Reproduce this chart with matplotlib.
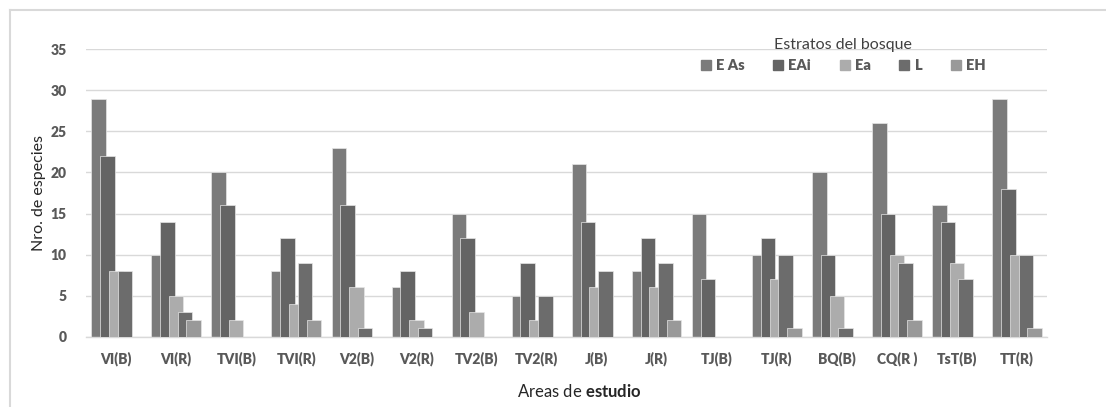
import numpy as np
import matplotlib
matplotlib.use("Agg")
import matplotlib.pyplot as plt
from matplotlib.lines import Line2D

plt.rcParams['font.family'] = ['Lato', 'DejaVu Sans']
plt.rcParams['mathtext.fontset'] = 'custom'
plt.rcParams['mathtext.rm'] = 'Lato'
plt.rcParams['mathtext.bf'] = 'Lato:bold'

# Study areas and species counts per forest stratum
areas = ["VI(B)", "VI(R)", "TVI(B)", "TVI(R)", "V2(B)", "V2(R)", "TV2(B)", "TV2(R)",
         "J(B)", "J(R)", "TJ(B)", "TJ(R)", "BQ(B)", "CQ(R )", "TsT(B)", "TT(R)"]
e_as = [29, 10, 20, 8, 23, 6, 15, 5, 21, 8, 15, 10, 20, 26, 16, 29]
e_ai = [22, 14, 16, 12, 16, 8, 12, 9, 14, 12, 7, 12, 10, 15, 14, 18]
e_a = [8, 5, 2, 4, 6, 2, 3, 2, 6, 6, 0, 7, 5, 10, 9, 10]
l_vals = [8, 3, 0, 9, 1, 1, 0, 5, 8, 9, 0, 10, 1, 9, 7, 10]
e_h = [0, 2, 0, 2, 0, 0, 0, 0, 0, 2, 0, 1, 0, 2, 0, 1]

series_names = ["E As", "EAi", "Ea", "L", "EH"]
series_values = [e_as, e_ai, e_a, l_vals, e_h]
colors = ["#7b7b7b", "#646464", "#acacac", "#6c6c6c", "#999999"]

fig = plt.figure(figsize=(11.06, 4.07), dpi=100)
ax = fig.add_axes([0.0778, 0.1732, 0.8689, 0.7052])

x = np.arange(len(areas))
bar_w = 0.242
step = 0.146
for i, (vals, col) in enumerate(zip(series_values, colors)):
    ax.bar(x + (i - 2) * step, vals, width=bar_w, color=col,
           edgecolor="#e6e6e6", linewidth=0.5, zorder=2 + i)

ax.set_xlim(-0.5, len(areas) - 0.5)
ax.set_ylim(0, 35)
ax.set_yticks(range(0, 36, 5))
ax.set_xticks(x)
ax.set_xticklabels(areas)
ax.grid(axis='y', color="#d9d9d9", linewidth=1.0, zorder=0)
ax.set_axisbelow(True)
for s in ["top", "right", "left"]:
    ax.spines[s].set_visible(False)
ax.spines["bottom"].set_color("#d9d9d9")
ax.spines["bottom"].set_linewidth(1.0)
ax.tick_params(axis='both', length=0, colors="#595959", labelsize=10)
for lab in ax.get_xticklabels() + ax.get_yticklabels():
    lab.set_fontweight("heavy")
ax.tick_params(axis='x', pad=11)
ax.tick_params(axis='y', pad=14)

ax.set_ylabel("Nro. de especies", fontsize=11.5, color="#262626", labelpad=3)
fig.text(0.524, 0.037, r"Areas de $\bf{estudio}$", ha="center", va="center",
         fontsize=12, color="#262626")

handles = [Line2D([], [], marker='s', linestyle='none', markersize=7,
                  markerfacecolor=c, markeredgecolor=c) for c in colors]
leg = fig.legend(handles, series_names, ncol=5, loc="center",
                 bbox_to_anchor=(0.762, 0.865), frameon=False,
                 title="Estratos del bosque", title_fontsize=11.5,
                 handlelength=0.8, handletextpad=0.3, columnspacing=1.9,
                 prop={'weight': 'heavy', 'size': 10.5})
leg.get_title().set_color("#404040")
leg._legend_box.align = "center"
for t in leg.get_texts():
    t.set_color("#595959")

# light frame along the left and top edges
fig.add_artist(Line2D([0.009, 0.009], [0, 0.975], color="#d9d9d9", lw=1.5,
                      transform=fig.transFigure))
fig.add_artist(Line2D([0.009, 1.0], [0.975, 0.975], color="#d9d9d9", lw=1.5,
                      transform=fig.transFigure))

fig.savefig("out.png", dpi=100)
